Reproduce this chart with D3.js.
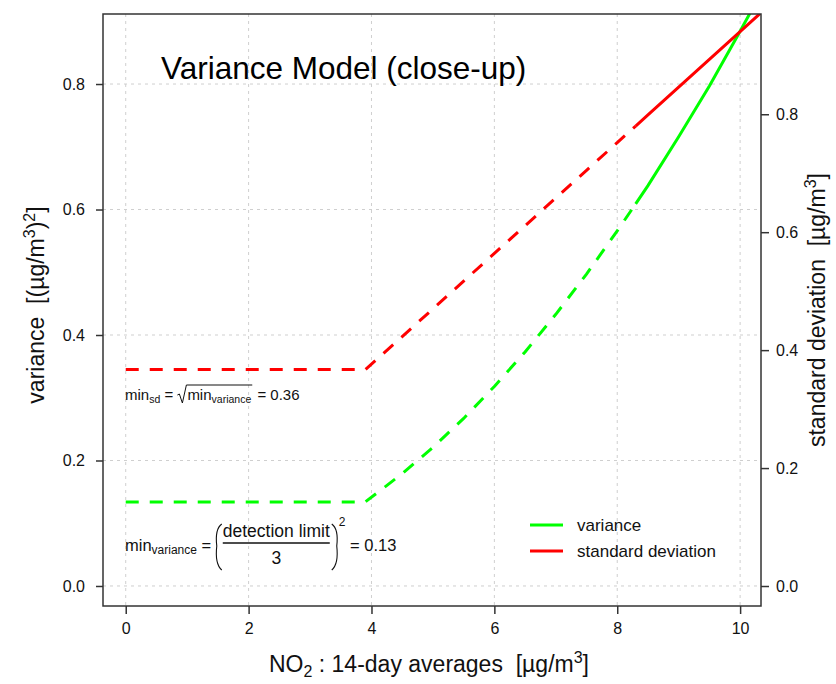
<!DOCTYPE html>
<html><head><meta charset="utf-8">
<script src="https://cdn.jsdelivr.net/npm/d3@7"></script>
<style>
html,body{margin:0;padding:0;background:#fff;}
text{font-family:"Liberation Sans",Arial,sans-serif;white-space:pre;}
</style></head>
<body><svg id="c" width="836" height="684"></svg>
<script>
// ---- data ----
const xTicks = [0, 2, 4, 6, 8, 10];
const varTicks = [0.0, 0.2, 0.4, 0.6, 0.8];
const sdTicks = [0.0, 0.2, 0.4, 0.6, 0.8];
// dashed part of the model
const xDashed = [0, 1, 2, 3, 3.9, 4.5, 5, 5.5, 6, 6.5, 7, 7.5, 8, 8.3];
const varDashed = [0.134, 0.134, 0.134, 0.134, 0.134, 0.179, 0.221, 0.267, 0.318, 0.373, 0.433, 0.497, 0.566, 0.609];
const sdDashed = [0.367, 0.367, 0.367, 0.367, 0.367, 0.423, 0.470, 0.517, 0.564, 0.611, 0.658, 0.705, 0.752, 0.780];
// solid part of the model
const xSolid = [8.3, 8.5, 9, 9.5, 10, 10.4];
const varSolid = [0.609, 0.638, 0.716, 0.797, 0.884, 0.956];
const sdSolid = [0.780, 0.799, 0.846, 0.893, 0.940, 0.978];
const legendLabels = ["variance", "standard deviation"];
const colors = {variance: "#00ff00", sd: "#ff0000"};

const svg = d3.select("#c");
const L = 103, R = 761, T = 14, B = 606;
const x = d3.scaleLinear().domain([-0.37, 10.34]).range([L, R]);
const yV = d3.scaleLinear().domain([-0.0319, 0.9116]).range([B, T]);
const yS = d3.scaleLinear().domain([-0.0339, 0.970]).range([B, T]);
const axisCol = "#333";
const fontTick = "16px";

// grid
const grid = svg.append("g").attr("stroke", "#cfcfcf").attr("stroke-width", 1).attr("stroke-dasharray", "3,4");
xTicks.forEach(t => grid.append("line").attr("x1", x(t)).attr("x2", x(t)).attr("y1", T).attr("y2", B));
varTicks.forEach(t => grid.append("line").attr("x1", L).attr("x2", R).attr("y1", yV(t)).attr("y2", yV(t)));

// clip
svg.append("clipPath").attr("id", "clip").append("rect").attr("x", L).attr("y", T).attr("width", R - L).attr("height", B - T);
const plot = svg.append("g").attr("clip-path", "url(#clip)");

function drawLine(xs, ys, yScale, col, dashed) {
  const pts = xs.map((v, i) => [v, ys[i]]);
  const line = d3.line().x(d => x(d[0])).y(d => yScale(d[1]));
  plot.append("path").attr("d", line(pts)).attr("fill", "none").attr("stroke", col)
    .attr("stroke-width", 3).attr("stroke-dasharray", dashed ? "13,11" : null);
}
drawLine(xDashed, varDashed, yV, colors.variance, true);
drawLine(xDashed, sdDashed, yS, colors.sd, true);
drawLine(xSolid, varSolid, yV, colors.variance, false);
drawLine(xSolid, sdSolid, yS, colors.sd, false);

// axes
function styleAxis(g) {
  g.select(".domain").remove();
  g.selectAll(".tick line").attr("stroke", axisCol).attr("stroke-width", 1.5);
  g.selectAll(".tick text").attr("fill", "#111").style("font-size", fontTick)
    .style("font-family", "'Liberation Sans',Arial,sans-serif");
}
svg.append("g").attr("transform", `translate(0,${B})`)
  .call(d3.axisBottom(x).tickValues(xTicks).tickFormat(d3.format("d")).tickSize(8).tickPadding(9))
  .call(styleAxis);
svg.append("g").attr("transform", `translate(${L},0)`)
  .call(d3.axisLeft(yV).tickValues(varTicks).tickFormat(d3.format(".1f")).tickSize(7).tickPadding(11))
  .call(styleAxis);
svg.append("g").attr("transform", `translate(${R},0)`)
  .call(d3.axisRight(yS).tickValues(sdTicks).tickFormat(d3.format(".1f")).tickSize(8).tickPadding(7))
  .call(styleAxis);

// box
svg.append("rect").attr("x", L).attr("y", T).attr("width", R - L).attr("height", B - T)
  .attr("fill", "none").attr("stroke", axisCol).attr("stroke-width", 1.5);

// title
svg.append("text").attr("x", 161).attr("y", 79).attr("font-size", 31.5).attr("fill", "#000")
  .text("Variance Model (close-up)");

// x axis title
const xt = svg.append("text").attr("x", 429).attr("y", 672).attr("text-anchor", "middle")
  .attr("font-size", 23).attr("fill", "#111");
xt.append("tspan").text("NO");
xt.append("tspan").attr("font-size", 16).attr("dy", 5).text("2");
xt.append("tspan").attr("dy", -5).text(" : 14-day averages  [\u00b5g");
xt.append("tspan").text("/");
xt.append("tspan").text("m");
xt.append("tspan").attr("font-size", 16).attr("dy", -9).text("3");
xt.append("tspan").attr("dy", 9).text("]");

// left y title
const yt = svg.append("text").attr("transform", "translate(44,305) rotate(-90)").attr("text-anchor", "middle")
  .attr("font-size", 23).attr("fill", "#111");
yt.append("tspan").text("variance  [(\u00b5g");
yt.append("tspan").text("/");
yt.append("tspan").text("m");
yt.append("tspan").attr("font-size", 16).attr("dy", -9).text("3");
yt.append("tspan").attr("dy", 9).text(")");
yt.append("tspan").attr("font-size", 16).attr("dy", -9).text("2");
yt.append("tspan").attr("dy", 9).text("]");

// right y title
const rt = svg.append("text").attr("transform", "translate(825,310) rotate(-90)").attr("text-anchor", "middle")
  .attr("font-size", 23).attr("fill", "#111");
rt.append("tspan").text("standard deviation  [\u00b5g");
rt.append("tspan").text("/");
rt.append("tspan").text("m");
rt.append("tspan").attr("font-size", 16).attr("dy", -9).text("3");
rt.append("tspan").attr("dy", 9).text("]");

// annotation 1: min_sd = sqrt(min_variance) = 0.36
(function(){
  const g = svg.append("g").attr("fill", "#111");
  let cx = 125; const by = 400;
  function put(t, fs, dy) {
    const el = g.append("text").attr("x", cx).attr("y", by + (dy || 0)).attr("font-size", fs).text(t);
    const w = el.node().getComputedTextLength(); cx += w; return el;
  }
  put("min", 15); put("sd", 10.5, 3); put(" = ", 15);
  const sx = cx;
  g.append("path").attr("d", `M${sx},${by-5} L${sx+2},${by-6} L${sx+5},${by+3} L${sx+9},${by-15}`)
    .attr("fill", "none").attr("stroke", "#111").attr("stroke-width", 1);
  cx += 10;
  put("min", 15); put("variance", 10.5, 3);
  g.append("line").attr("x1", sx + 9).attr("x2", cx + 1).attr("y1", by - 15).attr("y2", by - 15)
    .attr("stroke", "#111").attr("stroke-width", 1);
  cx += 2;
  put(" = 0.36", 15);
})();

// annotation 2: min_variance = (detection limit / 3)^2 = 0.13
(function(){
  const g = svg.append("g").attr("fill", "#111");
  let cx = 125; const by = 551;
  function put(t, fs, y) {
    const el = g.append("text").attr("x", cx).attr("y", y).attr("font-size", fs).text(t);
    const w = el.node().getComputedTextLength(); cx += w; return w;
  }
  put("min", 16.5, by); put("variance", 12, by + 3); put(" = ", 16.5, by);
  const p0 = cx + 1;
  g.append("path").attr("d", `M${p0+5},${by-27} Q${p0-2},${by-22} ${p0},${by-5} Q${p0-2},${by+13} ${p0+5},${by+19}`)
    .attr("fill", "none").attr("stroke", "#111").attr("stroke-width", 1.1);
  cx = p0 + 6;
  const fx = cx;
  const num = g.append("text").attr("x", fx).attr("y", by - 14).attr("font-size", 17.5).text("detection limit");
  const nw = num.node().getComputedTextLength();
  g.append("line").attr("x1", fx).attr("x2", fx + nw).attr("y1", by - 8).attr("y2", by - 8)
    .attr("stroke", "#111").attr("stroke-width", 1.3);
  g.append("text").attr("x", fx + nw / 2).attr("y", by + 13).attr("font-size", 17.5).attr("text-anchor", "middle").text("3");
  cx = fx + nw + 2;
  const p1 = cx;
  g.append("path").attr("d", `M${p1},${by-27} Q${p1+7},${by-22} ${p1+5},${by-5} Q${p1+7},${by+13} ${p1},${by+19}`)
    .attr("fill", "none").attr("stroke", "#111").attr("stroke-width", 1.1);
  cx = p1 + 7;
  put("2", 12, by - 25);
  put(" = 0.13", 16.5, by);
})();

// legend
const lg = svg.append("g");
[[legendLabels[0], colors.variance, 525], [legendLabels[1], colors.sd, 551]].forEach(([lab, col, yy]) => {
  lg.append("line").attr("x1", 530).attr("x2", 563).attr("y1", yy).attr("y2", yy).attr("stroke", col).attr("stroke-width", 3);
  lg.append("text").attr("x", 577).attr("y", yy + 6).attr("font-size", 17).attr("fill", "#111").text(lab);
});
</script></body></html>
